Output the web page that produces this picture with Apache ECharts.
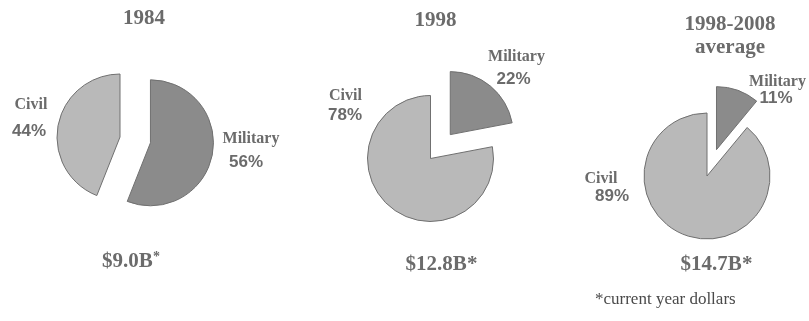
<!DOCTYPE html>
<html>
<head>
<meta charset="utf-8">
<script src="https://cdn.jsdelivr.net/npm/echarts@6/dist/echarts.min.js"></script>
<style>
  html, body { margin: 0; padding: 0; background: #ffffff; }
  #chart { width: 809px; height: 321px; }
</style>
</head>
<body>
<div id="chart"></div>
<script>
// Funding split, three periods
const periods = ['1984', '1998', '1998-2008\naverage'];
const sliceNames = ['Military', 'Civil'];
const militaryShare = [56, 22, 11];
const civilShare = [44, 78, 89];
const totals = ['$9.0B', '$12.8B', '$14.7B'];
const footnote = '*current year dollars';

// Layout of each panel
const pieCenters = [[120, 137], [430.5, 158.5], [707, 176]];
const pieRadius = 63;
const explode = [31, 31, 28];
const titlePos = [[144, 18.5], [435.5, 20.5], [730, 36.5]];
const totalPos = [[131, 261.5], [441.5, 265], [716.5, 265]];
const smallAsterisk = [true, false, false];
// [nameX, nameY, pctX, pctY]
const militaryLabelPos = [[251, 138.5, 246, 162.5], [516.5, 57, 513.5, 79], [777.5, 82, 776, 98.5]];
const civilLabelPos = [[31, 104.5, 29, 131], [345.5, 96, 345, 115.5], [601, 179, 612, 196]];

const TEXT = '#6b6b6b';
const SERIF = '"Liberation Serif", "Times New Roman", serif';
const SANS = '"Liberation Sans", Arial, sans-serif';
const CIVIL_FILL = '#b9b9b9';
const MILITARY_FILL = '#8b8b8b';
const EDGE = '#707070';

function text(x, y, str, font, fill, align, extra) {
  return {
    type: 'text',
    x: x, y: y,
    silent: true,
    style: Object.assign({
      text: str,
      font: font,
      fill: fill,
      textAlign: align || 'center',
      textVerticalAlign: 'middle',
      align: align || 'center',
      verticalAlign: 'middle'
    }, extra || {})
  };
}

const series = periods.map((p, i) => ({
  type: 'pie',
  center: pieCenters[i],
  radius: pieRadius,
  startAngle: 90,
  clockwise: true,
  selectedMode: 'multiple',
  selectedOffset: explode[i],
  silent: true,
  animation: false,
  label: { show: false },
  labelLine: { show: false },
  emphasis: { disabled: true },
  itemStyle: { borderColor: EDGE, borderWidth: 1 },
  data: [
    { name: sliceNames[0], value: militaryShare[i], selected: true, itemStyle: { color: MILITARY_FILL } },
    { name: sliceNames[1], value: civilShare[i], itemStyle: { color: CIVIL_FILL } }
  ]
}));

const graphics = [];
periods.forEach((p, i) => {
  graphics.push(text(titlePos[i][0], titlePos[i][1], p, 'bold 21px ' + SERIF, TEXT, 'center', { lineHeight: 23 }));

  const m = militaryLabelPos[i], c = civilLabelPos[i];
  graphics.push(text(m[0], m[1], sliceNames[0], 'bold 16px ' + SERIF, TEXT));
  graphics.push(text(m[2], m[3], militaryShare[i] + '%', 'bold 17px ' + SANS, TEXT));
  graphics.push(text(c[0], c[1], sliceNames[1], 'bold 16px ' + SERIF, TEXT));
  graphics.push(text(c[2], c[3], civilShare[i] + '%', 'bold 17px ' + SANS, TEXT));

  if (smallAsterisk[i]) {
    graphics.push(text(totalPos[i][0], totalPos[i][1], '{a|' + totals[i] + '}{s|*}', 'bold 21px ' + SERIF, TEXT, 'center', {
      rich: {
        a: { font: 'bold 21px ' + SERIF, fill: TEXT, color: TEXT },
        s: { font: 'bold 14px ' + SERIF, fill: TEXT, color: TEXT, verticalAlign: 'top', padding: [0, 0, 8, 0] }
      }
    }));
  } else {
    graphics.push(text(totalPos[i][0], totalPos[i][1], totals[i] + '*', 'bold 21px ' + SERIF, TEXT));
  }
});
graphics.push(text(595, 300, footnote, '17px ' + SERIF, '#4a4a4a', 'left'));

const chart = echarts.init(document.getElementById('chart'), null, { renderer: 'canvas' });
chart.setOption({
  backgroundColor: '#ffffff',
  animation: false,
  series: series,
  graphic: { elements: graphics }
});
</script>
</body>
</html>
